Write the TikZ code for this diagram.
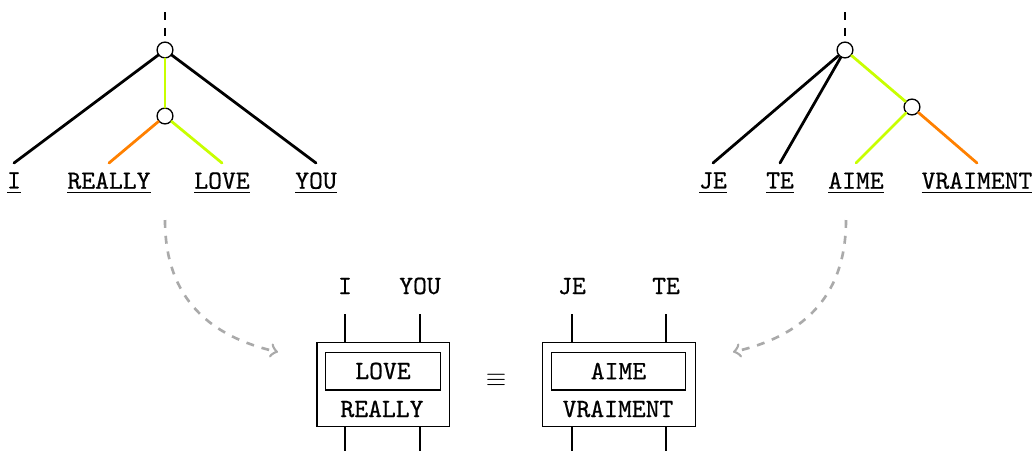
\documentclass[tikz,border=0pt]{standalone}
\usepackage{fontspec}
\setmonofont{Latin Modern Mono}[FakeBold=0.6]
\begin{document}
\begin{tikzpicture}[x=0.3794pt,y=-0.3794pt,
  word/.style={font=\ttfamily, anchor=north},
  wlabel/.style={font=\ttfamily},
  blabel/.style={font=\ttfamily, anchor=base},
  hub/.style={circle, draw, fill=white, inner sep=0pt, minimum size=6pt, line width=0.5pt},
  edge/.style={line width=1.05pt, line cap=round},
  rootedge/.style={line width=1.05pt, dashed},
  outerbox/.style={draw, line width=0.4pt, inner sep=0pt},
  innerbox/.style={draw, line width=0.4pt, inner sep=0pt, font=\ttfamily},
  wire/.style={line width=0.4pt},
  flow/.style={draw=arrgray, line width=1pt, dashed, ->}
]
\definecolor{limeg}{RGB}{200,255,0}
\definecolor{orng}{RGB}{255,128,0}
\definecolor{arrgray}{RGB}{170,170,170}
\useasboundingbox (0,0) rectangle (1034,451);

% ---------- left tree ----------
\coordinate (rootL) at (165,12);
\node[hub] (tL) at (165,50) {};
\node[hub] (mL) at (165,116) {};
\node[word] (wI) at (14,163) {\underline{I}};
\node[word] (wREALLY) at (109,163) {\underline{REALLY}};
\node[word] (wLOVE) at (222,163) {\underline{LOVE}};
\node[word] (wYOU) at (316,163) {\underline{YOU}};
\draw[rootedge] (rootL) -- (tL);
\draw[edge] (tL) -- (wI.north);
\draw[edge] (tL) -- (wYOU.north);
\draw[edge, limeg] (tL) -- (mL);
\draw[edge, orng] (mL) -- (wREALLY.north);
\draw[edge, limeg] (mL) -- (wLOVE.north);

% ---------- right tree ----------
\coordinate (rootR) at (845,12);
\node[hub] (tR) at (845,50) {};
\node[hub] (mR) at (912,107) {};
\node[word] (wJE) at (713,163) {\underline{JE}};
\node[word] (wTE) at (780,163) {\underline{TE}};
\node[word] (wAIME) at (856,163) {\underline{AIME}};
\node[word] (wVRAIMENT) at (977,163) {\underline{VRAIMENT}};
\draw[rootedge] (rootR) -- (tR);
\draw[edge] (tR) -- (wJE.north);
\draw[edge] (tR) -- (wTE.north);
\draw[edge, limeg] (tR) -- (mR);
\draw[edge, limeg] (mR) -- (wAIME.north);
\draw[edge, orng] (mR) -- (wVRAIMENT.north);

% ---------- left box ----------
\node[outerbox, minimum width=50.1pt, minimum height=32.2pt] (LB) at (383,384.5) {};
\node[innerbox, minimum width=43.3pt, minimum height=14.4pt] (LI) at (383,371) {LOVE};
\node[blabel] (LT) at (382,417) {REALLY};
\node[blabel] (bI) at (345,294) {I};
\node[blabel] (bYOU) at (420,294) {YOU};
\coordinate (lw1) at (345,314);
\coordinate (lw2) at (420,314);
\coordinate (lw3) at (345,451);
\coordinate (lw4) at (420,451);
\draw[wire] (lw1) -- (lw1 |- LB.north);
\draw[wire] (lw2) -- (lw2 |- LB.north);
\draw[wire] (lw3 |- LB.south) -- (lw3);
\draw[wire] (lw4 |- LB.south) -- (lw4);

\node (eq) at (496,380) {$\equiv$};

% ---------- right box ----------
\node[outerbox, minimum width=57.7pt, minimum height=32.2pt] (RB) at (619,384.5) {};
\node[innerbox, minimum width=50.5pt, minimum height=14.4pt] (RI) at (618.5,371) {AIME};
\node[blabel] (RT) at (618,417) {VRAIMENT};
\node[blabel] (bJE) at (572,294) {JE};
\node[blabel] (bTE) at (666,294) {TE};
\coordinate (rw1) at (572,314);
\coordinate (rw2) at (666,314);
\coordinate (rw3) at (572,451);
\coordinate (rw4) at (666,451);
\draw[wire] (rw1) -- (rw1 |- RB.north);
\draw[wire] (rw2) -- (rw2 |- RB.north);
\draw[wire] (rw3 |- RB.south) -- (rw3);
\draw[wire] (rw4 |- RB.south) -- (rw4);

% ---------- dashed arrows ----------
\coordinate (aLs) at (165,220);
\coordinate (aLe) at (278,352);
\coordinate (aRs) at (846,220);
\coordinate (aRe) at (733,352);
\draw[flow] (aLs) .. controls (165,300) and (212,337) .. (aLe);
\draw[flow] (aRs) .. controls (846,300) and (799,337) .. (aRe);
\end{tikzpicture}
\end{document}
